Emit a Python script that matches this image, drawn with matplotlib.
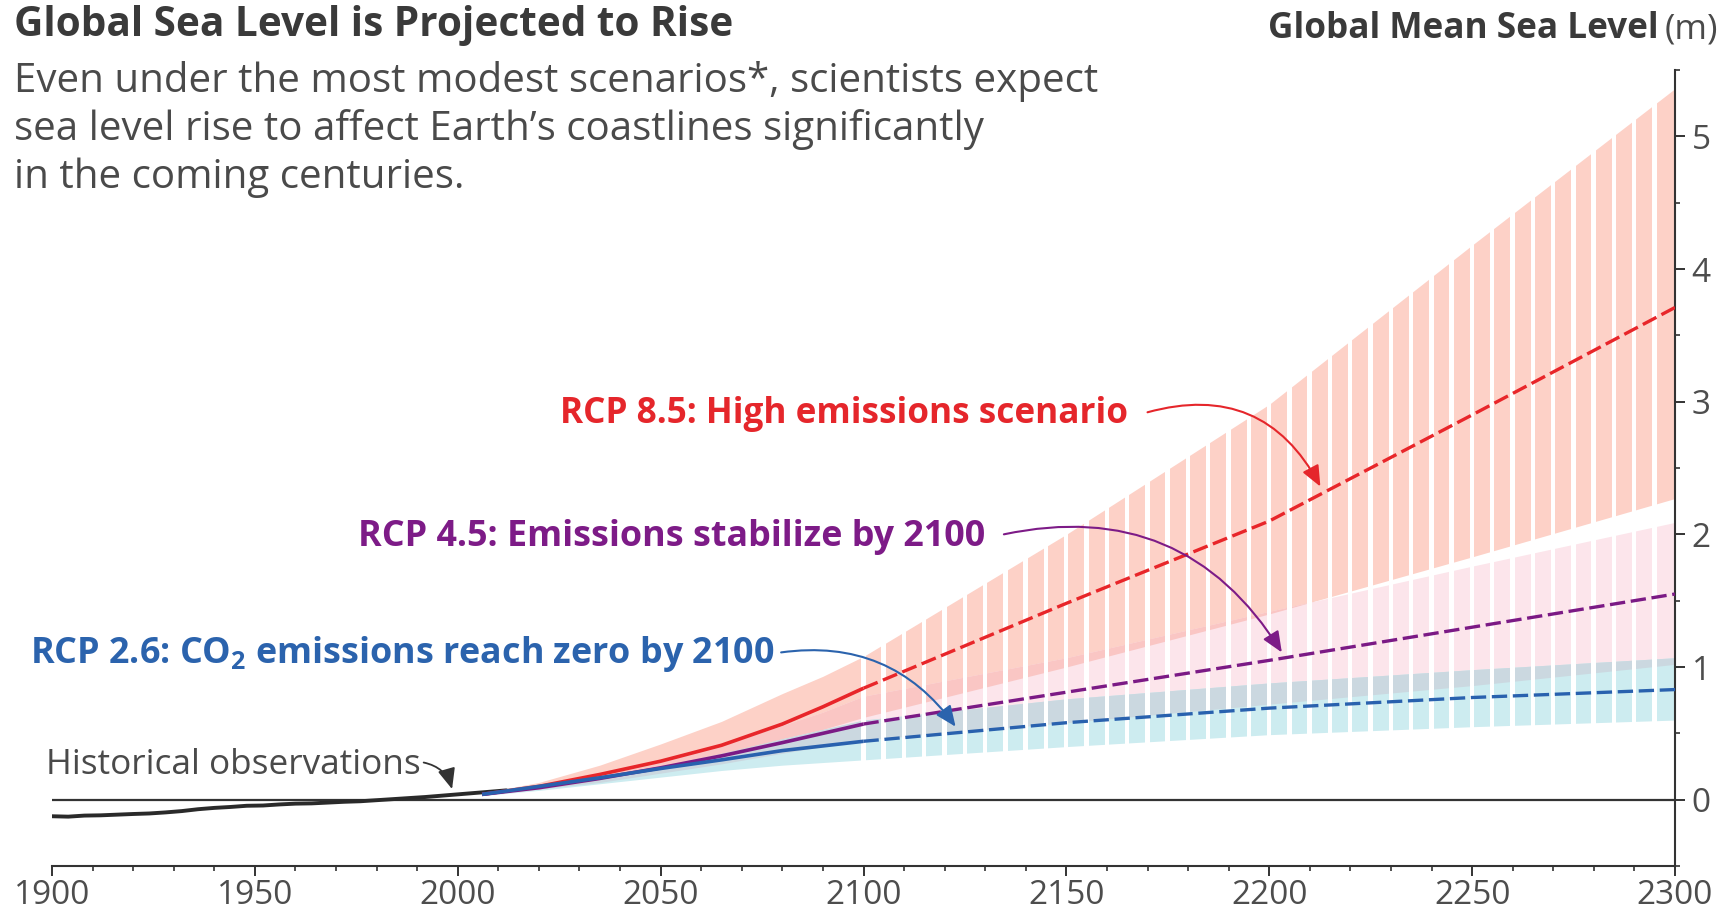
import numpy as np
import matplotlib
matplotlib.use("Agg")
import matplotlib.pyplot as plt
from matplotlib.ticker import MultipleLocator

plt.rcParams['font.family'] = ['Open Sans', 'DejaVu Sans']
plt.rcParams['mathtext.fontset'] = 'custom'
plt.rcParams['mathtext.rm'] = 'Open Sans'
plt.rcParams['mathtext.bf'] = 'Open Sans:bold'

# ---------------- data ----------------
hist_years = [1900, 1904, 1908, 1912, 1916, 1920, 1924, 1928, 1932, 1936, 1940,
              1944, 1948, 1952, 1956, 1960, 1964, 1968, 1972, 1976, 1980, 1984,
              1988, 1992, 1996, 2000, 2004, 2008, 2012]
hist_level = [-0.125, -0.128, -0.120, -0.118, -0.113, -0.108, -0.104, -0.096,
              -0.086, -0.072, -0.062, -0.055, -0.046, -0.044, -0.036, -0.030,
              -0.028, -0.022, -0.016, -0.012, -0.004, 0.004, 0.012, 0.020,
              0.030, 0.040, 0.050, 0.060, 0.070]

proj_years = [2006, 2020, 2035, 2050, 2065, 2080, 2090, 2100, 2150, 2200, 2250, 2300]

rcp85_hi  = [0.05, 0.13, 0.26, 0.42, 0.59, 0.80, 0.93, 1.08, 2.00, 2.98, 4.18, 5.36]
rcp85_med = [0.04, 0.10, 0.19, 0.29, 0.41, 0.57, 0.70, 0.84, 1.48, 2.10, 2.90, 3.71]
rcp85_lo  = [0.04, 0.08, 0.15, 0.24, 0.34, 0.46, 0.53, 0.62, 1.00, 1.40, 1.83, 2.27]

rcp45_hi  = [0.045, 0.10, 0.19, 0.29, 0.41, 0.56, 0.66, 0.78, 1.07, 1.42, 1.76, 2.09]
rcp45_med = [0.04, 0.09, 0.16, 0.24, 0.33, 0.43, 0.50, 0.57, 0.81, 1.05, 1.30, 1.55]
rcp45_lo  = [0.035, 0.08, 0.13, 0.20, 0.27, 0.35, 0.40, 0.45, 0.58, 0.72, 0.86, 1.02]

rcp26_hi  = [0.045, 0.09, 0.16, 0.25, 0.35, 0.46, 0.53, 0.60, 0.76, 0.88, 0.98, 1.07]
rcp26_med = [0.04, 0.10, 0.165, 0.235, 0.30, 0.37, 0.405, 0.44, 0.58, 0.69, 0.77, 0.83]
rcp26_lo  = [0.03, 0.07, 0.12, 0.17, 0.22, 0.26, 0.28, 0.30, 0.40, 0.49, 0.55, 0.60]

x_ticks = [1900, 1950, 2000, 2050, 2100, 2150, 2200, 2250, 2300]
y_ticks = [0, 1, 2, 3, 4, 5]

title = "Global Sea Level is Projected to Rise"
subtitle = ["Even under the most modest scenarios*, scientists expect",
            "sea level rise to affect Earth\u2019s coastlines significantly",
            "in the coming centuries."]
label85 = "RCP 8.5: High emissions scenario"
label45 = "RCP 4.5: Emissions stabilize by 2100"
label26 = "RCP 2.6: CO$_\\mathbf{2}$ emissions reach zero by 2100"
label_hist = "Historical observations"

# ---------------- style ----------------
RED, PURPLE, BLUE = '#E8262A', '#7B1A85', '#2961AE'
RED_T, PURPLE_T, BLUE_T = '#E5262B', '#7D1B87', '#2B63AD'
SALMON, PINK, CYAN = '#FDD1C7', '#FCE5EB', '#CDECF0'
GRAY_OV, SALMON_OV, MIX_OV = '#CBD8E0', '#FAC6C4', '#D9D6D4'
DARK = '#333333'

W, H = 1729, 913
fig = plt.figure(figsize=(W / 100, H / 100), dpi=100)
ax = fig.add_axes([52 / W, 1 - 866 / H, (1675 - 52) / W, (866 - 70) / H])

ax.set_xlim(1900, 2300)
ax.set_ylim(-0.5, 5.5)

yrs = np.array(proj_years, dtype=float)
bands = [(np.array(rcp85_lo), np.array(rcp85_hi), SALMON),
         (np.array(rcp45_lo), np.array(rcp45_hi), PINK),
         (np.array(rcp26_lo), np.array(rcp26_hi), CYAN)]
for lo, hi, c in bands:
    ax.fill_between(yrs, lo, hi, color=c, lw=0, zorder=1)


def overlap(a, b, color, z):
    lo = np.maximum(a[0], b[0])
    hi = np.minimum(a[1], b[1])
    ax.fill_between(yrs, lo, hi, where=hi > lo, interpolate=True,
                    color=color, lw=0, zorder=z)


overlap(bands[0], bands[1], SALMON_OV, 1.1)
overlap(bands[1], bands[2], GRAY_OV, 1.2)
overlap(bands[0], bands[2], MIX_OV, 1.3)

# white gaps that turn the post-2100 bands into stripes
for k in range(40):
    g0 = 2099.4 + 5 * k
    ax.axvspan(g0, g0 + 1.1, color='white', lw=0, zorder=1.5)

# zero line
ax.axhline(0, color=DARK, lw=1.6, zorder=2)

# historical
ax.plot(hist_years, hist_level, color='#2a2a2a', lw=2.8, zorder=2.2,
        solid_joinstyle='round', solid_capstyle='round')

# median projections: solid to 2100, dashed after
split = proj_years.index(2100)
for med, c in [(rcp85_med, RED), (rcp45_med, PURPLE), (rcp26_med, BLUE)]:
    ax.plot(proj_years[:split + 1], med[:split + 1], color=c, lw=2.6,
            zorder=3, solid_capstyle='butt', solid_joinstyle='round')
    ax.plot(proj_years[split:], med[split:], color=c, lw=2.4, zorder=3,
            dashes=(4.6, 1.7), dash_capstyle='butt')

# spines / ticks
for s in ['top', 'left']:
    ax.spines[s].set_visible(False)
for s in ['bottom', 'right']:
    ax.spines[s].set_color(DARK)
    ax.spines[s].set_linewidth(1.5)
ax.yaxis.tick_right()
ax.set_xticks(x_ticks)
ax.set_xticklabels([str(v) for v in x_ticks])
ax.set_yticks(y_ticks)
ax.set_yticklabels([str(v) for v in y_ticks])
ax.xaxis.set_minor_locator(MultipleLocator(10))
ax.yaxis.set_minor_locator(MultipleLocator(0.5))
ax.tick_params(which='major', length=7, width=1.4, color=DARK,
               labelsize=24, labelcolor='#4d4d4d', pad=2)
ax.tick_params(which='minor', length=3.8, width=1.2, color=DARK)
ax.tick_params(axis='y', which='major', pad=5)

# annotations
ax.text(2025.3, 2.84, label85, color=RED_T, fontsize=25.3, fontweight='bold',
        ha='left', va='baseline', zorder=6)
ax.text(1975.5, 1.91, label45, color=PURPLE_T, fontsize=25.8, fontweight='bold',
        ha='left', va='baseline', zorder=6)
ax.text(1894.6, 1.03, label26, color=BLUE_T, fontsize=25.8, fontweight='bold',
        ha='left', va='baseline', zorder=6)
ax.text(1898.5, 0.196, label_hist, color='#4a4a4a', fontsize=25.3,
        ha='left', va='baseline', zorder=6)


def arrow(start, tip, color, rad, lw=1.5):
    ax.annotate('', xy=tip, xytext=start, zorder=6,
                arrowprops=dict(arrowstyle='-|>,head_length=0.7,head_width=0.3',
                                mutation_scale=18, color=color, lw=lw,
                                shrinkA=0, shrinkB=0,
                                connectionstyle='arc3,rad=%s' % rad))


arrow((2170, 2.92), (2212.6, 2.36), RED_T, -0.4)
arrow((2134.6, 2.00), (2203.1, 1.11), PURPLE_T, -0.35)
arrow((2079.7, 1.11), (2122.7, 0.55), BLUE_T, -0.3)
arrow((1991.6, 0.28), (1998.6, 0.08), '#333333', -0.3, lw=1.3)

# titles
fig.text(14 / W, 1 - 36.5 / H, title, fontsize=29.2, fontweight='bold',
         color='#3a3a3a', ha='left', va='baseline')
for i, line in enumerate(subtitle):
    fig.text(14 / W, 1 - (92 + 48.2 * i) / H, line, fontsize=29,
             color='#4a4a4a', ha='left', va='baseline')

t_m = fig.text(1718 / W, 1 - 38 / H, "(m)", fontsize=25.3, color='#4a4a4a',
               ha='right', va='baseline')
r = fig.canvas.get_renderer()
bb = t_m.get_window_extent(r)
fig.text((bb.x0 - 6) / W, 1 - 38 / H, "Global Mean Sea Level", fontsize=25.3,
         fontweight='bold', color='#3a3a3a', ha='right', va='baseline')

fig.savefig('out.png', dpi=100)
